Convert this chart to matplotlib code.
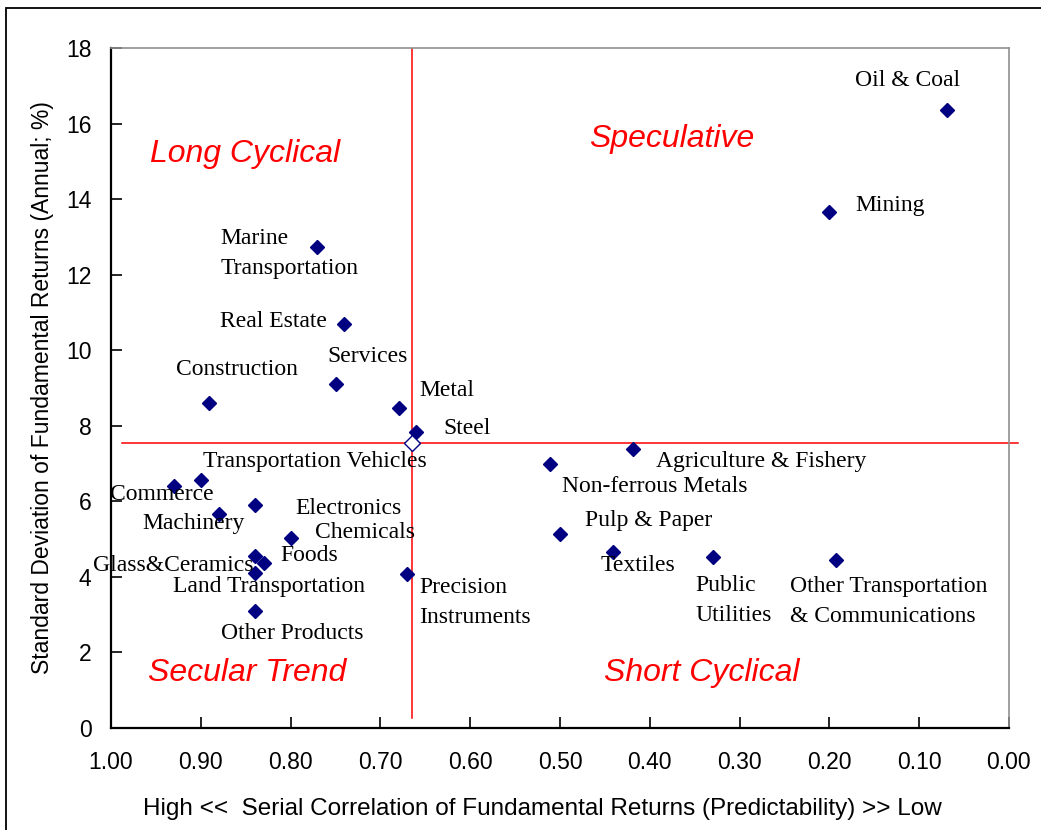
import matplotlib.pyplot as plt
from matplotlib.patches import Rectangle

# Industry data: serial correlation (x) vs. std. dev. of fundamental returns (y)
industries = [
    "Oil & Coal", "Mining", "Marine\nTransportation", "Real Estate", "Services",
    "Construction", "Metal", "Steel", "Transportation Vehicles", "Commerce",
    "Electronics", "Machinery", "Chemicals", "Glass&Ceramics", "Foods",
    "Land Transportation", "Precision\nInstruments", "Other Products",
    "Agriculture & Fishery", "Non-ferrous Metals", "Pulp & Paper", "Textiles",
    "Public\nUtilities", "Other Transportation\n& Communications",
]
serial_corr = [0.069, 0.200, 0.771, 0.740, 0.749, 0.891, 0.679, 0.660, 0.900, 0.930,
               0.840, 0.880, 0.799, 0.840, 0.830, 0.840, 0.670, 0.840,
               0.419, 0.511, 0.500, 0.441, 0.330, 0.193]
std_dev = [16.36, 13.67, 12.73, 10.69, 9.10, 8.61, 8.46, 7.83, 6.56, 6.41,
           5.91, 5.67, 5.03, 4.54, 4.36, 4.11, 4.08, 3.10,
           7.38, 6.98, 5.14, 4.65, 4.53, 4.45]

# label offsets from each point, in pixels (left edge, vertical centre)
label_dx = [-92, 26, -96, -124, -9, -33, 20, 27, 2, -64, 41, -76, 24, -162, 17,
            -82, 12, -34, 23, 12, 25, -12, -17, -46]
label_dy = [30, 6, -6, 3, 28, 33, 18, 4, 19, -9, -4, -10, 5, -9, 8,
            -14, -29, -23, -12, -22, 13, -13, -44, -42]

# market average (centre of the quadrants)
avg_corr = 0.665
avg_std = 7.55

quadrants = ["Long Cyclical", "Speculative", "Secular Trend", "Short Cyclical"]
quad_x = [0.957, 0.467, 0.959, 0.451]
quad_y = [15.2, 15.6, 1.45, 1.45]

fig = plt.figure(figsize=(10.41, 8.30), dpi=100)
ax = fig.add_axes([0.1066, 0.1233, 0.8626, 0.8185])

# outer chart frame
fig.patches.append(Rectangle((6 / 1041, -0.1), 2.0, 1.1 - 8 / 830, transform=fig.transFigure,
                             fill=False, edgecolor="black", linewidth=1.3))

navy = "#000080"
red = "#FF0000"

ax.plot([avg_corr, avg_corr], [0.25, 18], color=red, lw=1.1, zorder=2)
ax.plot([0.988, -0.01], [avg_std, avg_std], color=red, lw=1.1, zorder=2, clip_on=False)

ax.plot(serial_corr, std_dev, linestyle="none", marker="D", markersize=7.5,
        color=navy, zorder=3)
ax.plot([avg_corr], [avg_std], linestyle="none", marker="D", markersize=8,
        markerfacecolor="white", markeredgecolor=navy, markeredgewidth=1.0, zorder=3)

for name, x, y, dx, dy in zip(industries, serial_corr, std_dev, label_dx, label_dy):
    ax.annotate(name, (x, y), xytext=(dx, dy), textcoords="offset pixels",
                ha="left", va="center", fontsize=17, family="Liberation Serif",
                linespacing=1.55, zorder=4)

for name, x, y in zip(quadrants, quad_x, quad_y):
    ax.text(x, y, name, color=red, fontsize=23, style="italic",
            family="Liberation Sans", ha="left", va="center")

ax.set_xlim(1.0, 0.0)
ax.set_ylim(0, 18)
ax.set_xticks([1.0, 0.9, 0.8, 0.7, 0.6, 0.5, 0.4, 0.3, 0.2, 0.1, 0.0])
ax.set_xticklabels(["%.2f" % v for v in ax.get_xticks()])
ax.set_yticks(range(0, 19, 2))

for lab in ax.get_xticklabels() + ax.get_yticklabels():
    lab.set_family("Liberation Sans")
ax.tick_params(axis="both", direction="in", length=8, width=1.2, labelsize=16.5)
ax.tick_params(axis="x", pad=17)
ax.tick_params(axis="y", pad=14)

for side in ["left", "bottom"]:
    ax.spines[side].set_color("black")
    ax.spines[side].set_linewidth(1.6)
for side in ["top", "right"]:
    ax.spines[side].set_color("#909090")
    ax.spines[side].set_linewidth(1.2)

ax.set_xlabel("High <<  Serial Correlation of Fundamental Returns (Predictability) >> Low",
              fontsize=17.5, family="Liberation Sans", labelpad=17, x=0.4805)
ax.set_ylabel("Standard Deviation of Fundamental Returns (Annual; %)",
              fontsize=16.5, family="Liberation Sans", labelpad=9)

fig.savefig("out.png", dpi=100)
